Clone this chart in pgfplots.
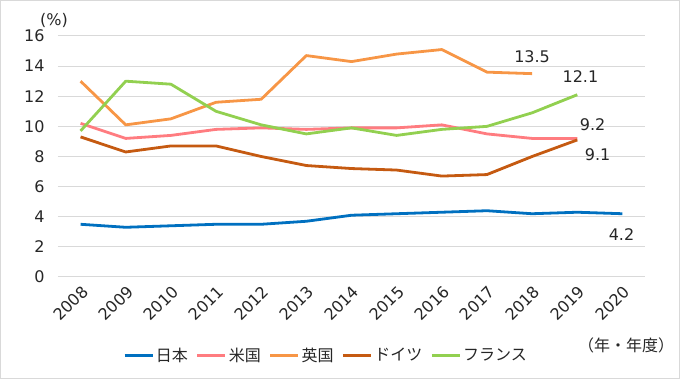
\documentclass[border=0pt]{standalone}
\usepackage{fontspec}
\setmainfont{DejaVu Sans}
\newfontfamily\jp{Noto Sans CJK JP}
\usepackage{pgfplots}
\pgfplotsset{compat=1.18}
\definecolor{cJP}{RGB}{0,112,192}
\definecolor{cUS}{RGB}{255,124,128}
\definecolor{cUK}{RGB}{247,150,70}
\definecolor{cDE}{RGB}{197,90,17}
\definecolor{cFR}{RGB}{146,208,80}
\begin{document}
\begin{tikzpicture}[x=1pt,y=1pt]
\draw[color=black!15, line width=1pt] (0.5,0.5) rectangle (679.5,378.5);
\begin{axis}[
  at={(58pt,102pt)}, anchor=south west,
  width=587pt, height=241pt, scale only axis,
  xmin=2007.5, xmax=2020.5, ymin=0, ymax=16,
  ytick={0,2,...,16},
  xtick={2008,2009,2010,2011,2012,2013,2014,2015,2016,2017,2018,2019,2020},
  xticklabels={2008,2009,2010,2011,2012,2013,2014,2015,2016,2017,2018,2019,2020},
  ymajorgrids, grid style={black!15, line width=1pt},
  axis line style={draw=none},
  major tick length=0pt,
  /pgf/number format/assume math mode=true,
  tick label style={font=\fontsize{16}{19}\selectfont, text=black!85},
  yticklabel style={xshift=-10pt},
  xticklabel style={rotate=45, anchor=east, xshift=-1.7pt, yshift=-11.7pt},
  legend columns=5,
  legend style={at={(0.4566,-0.325)}, anchor=center, draw=none, fill=none,
    font=\jp\fontsize{16}{19}\selectfont, text=black!85,
    /tikz/every even column/.append style={column sep=6pt}},
  legend image code/.code={\draw[#1] (0pt,0pt) -- (28pt,0pt);},
  every axis plot/.append style={line width=2.8pt, line join=round},
]
\addplot[cJP] coordinates {(2008,3.5)(2009,3.3)(2010,3.4)(2011,3.5)(2012,3.5)(2013,3.7)(2014,4.1)(2015,4.2)(2016,4.3)(2017,4.4)(2018,4.2)(2019,4.3)(2020,4.2)};
\addlegendentry{日本}
\addplot[cUS] coordinates {(2008,10.2)(2009,9.2)(2010,9.4)(2011,9.8)(2012,9.9)(2013,9.8)(2014,9.9)(2015,9.9)(2016,10.1)(2017,9.5)(2018,9.2)(2019,9.2)};
\addlegendentry{米国}
\addplot[cUK] coordinates {(2008,13.0)(2009,10.1)(2010,10.5)(2011,11.6)(2012,11.8)(2013,14.7)(2014,14.3)(2015,14.8)(2016,15.1)(2017,13.6)(2018,13.5)};
\addlegendentry{英国}
\addplot[cDE] coordinates {(2008,9.3)(2009,8.3)(2010,8.7)(2011,8.7)(2012,8.0)(2013,7.4)(2014,7.2)(2015,7.1)(2016,6.7)(2017,6.8)(2018,8.0)(2019,9.1)};
\addlegendentry{ドイツ}
\addplot[cFR] coordinates {(2008,9.7)(2009,13.0)(2010,12.8)(2011,11.0)(2012,10.1)(2013,9.5)(2014,9.9)(2015,9.4)(2016,9.8)(2017,10.0)(2018,10.9)(2019,12.1)};
\addlegendentry{フランス}
\begin{scope}[every node/.style={font=\fontsize{16}{19}\selectfont, text=black!85}]
\node at (axis cs:2018,14.6) {13.5};
\node at (axis cs:2019.07,13.28) {12.1};
\node at (axis cs:2019.34,10.09) {9.2};
\node at (axis cs:2019.45,8.1) {9.1};
\node at (axis cs:2019.98,2.79) {4.2};
\end{scope}
\end{axis}
\node[font=\fontsize{16}{19}\selectfont, text=black!85] at (54,359) {(\%)};
\node[font=\jp\fontsize{16}{19}\selectfont, text=black!85] at (626,34) {（年・年度）};
\end{tikzpicture}
\end{document}
